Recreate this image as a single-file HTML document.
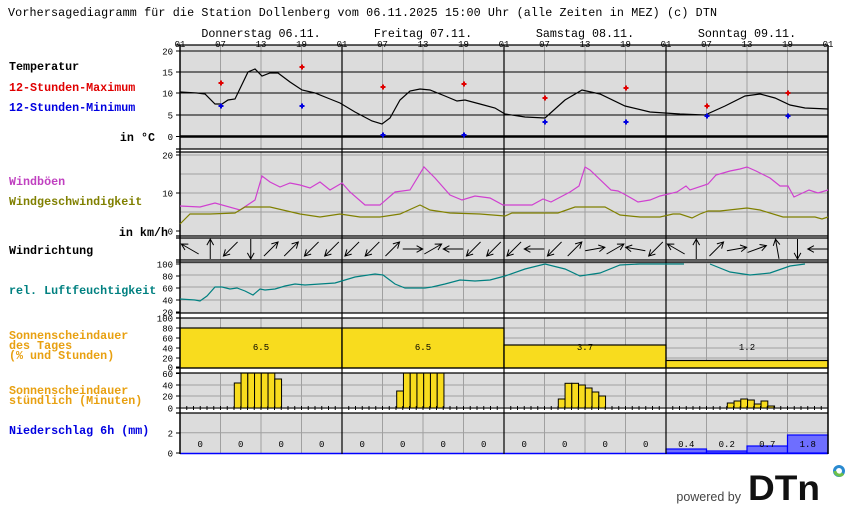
<!DOCTYPE html>
<html><head><meta charset="utf-8"><style>
html,body{margin:0;padding:0;background:#fff;width:850px;height:524px;overflow:hidden}
svg{display:block}
text{font-family:"Liberation Mono",monospace}
.l{font-size:11.7px;font-weight:bold}
.n{font-size:11.7px}
.t{font-size:9px}
</style></head><body>
<svg id="s" width="850" height="524" xmlns="http://www.w3.org/2000/svg"></svg>
<script>
const X0=180,X1=828,DW=162,HW=6.75;
let o='';
const R=(x,y,w,h,f,s,sw)=>o+=`<rect x="${x}" y="${y}" width="${w}" height="${h}" fill="${f}" ${s?`stroke="${s}" stroke-width="${sw||1}"`:''}/>`;
const L=(x1,y1,x2,y2,c,w)=>o+=`<line x1="${x1}" y1="${y1}" x2="${x2}" y2="${y2}" stroke="${c}" stroke-width="${w||1}"/>`;
const T=(x,y,s,c,cls,a)=>o+=`<text x="${x}" y="${y}" fill="${c||'#000'}" class="${cls||'t'}" text-anchor="${a||'start'}">${s}</text>`;
const P=(pts,c)=>o+=`<polyline fill="none" stroke="${c}" stroke-width="1.2" points="${pts.map(p=>p.join(',')).join(' ')}"/>`;
// title
o+=`<text x="8" y="16" class="n" textLength="709" lengthAdjust="spacing">Vorhersagediagramm für die Station Dollenberg vom 06.11.2025 15:00 Uhr (alle Zeiten in MEZ)   (c) DTN</text>`;
// day labels
["Donnerstag 06.11.","Freitag 07.11.","Samstag 08.11.","Sonntag 09.11."].forEach((d,i)=>T(X0+DW*i+DW/2,37,d,"#000","n","middle"));
// panels
const panels=[[45,149],[152,236],[238,260],[262,313],[318,368],[373,409],[413,454]];
panels.forEach(([a,b])=>R(X0,a,X1-X0,b-a,"#dcdcdc"));
for(let d=0;d<4;d++){for(let k=1;k<4;k++){const x=X0+d*DW+k*DW/4;panels.forEach(([a,b])=>L(x,a,x,b,"#a0a0a0"));}}
[51,72,93,115].forEach(y=>L(X0,y,X1,y,"#000"));
L(X0,136.5,X1,136.5,"#000",2.5);
[155,174,193,212].forEach(y=>L(X0,y,X1,y,"#a0a0a0"));
[263,275,287,300].forEach(y=>L(X0,y,X1,y,"#a0a0a0"));
[328,338,348,358].forEach(y=>L(X0,y,X1,y,"#a0a0a0"));
[385,396].forEach(y=>L(X0,y,X1,y,"#a0a0a0"));
L(X0,432.7,X1,432.7,"#a0a0a0");
for(let i=0;i<=16;i++){const x=X0+i*DW/4;T(x,47,["01","07","13","19"][i%4],"#000","t","middle");}
// sunshine daily
[[80,"6.5"],[80,"6.5"],[46,"3.7"],[15,"1.2"]].forEach(([p,s],i)=>{R(X0+i*DW,368-p/2,DW,p/2,"#f8dc1e","#000",1.2);T(X0+i*DW+DW/2,350,s,"#000","t","middle");});
// hourly sunshine bars
const hb=[[234.3,[383,373,373,373,373,373,379]],[396.7,[391,373,373,373,373,373,373]],[558.3,[399,383.3,383.3,385,388,392,396]],[727.3,[403,401,399,400,404,401,406]]];
hb.forEach(([x,a])=>a.forEach((t,i)=>R(x+i*6.75,t,6.75,408-t,"#f8dc1e","#000",1)));
for(let i=0;i<96;i++){const x=X0+i*HW;L(x,406,x,410,"#000");}
L(X0,408,X1,408,"#000");
// precip
[0.4,0.2,0.7,1.8].forEach((v,i)=>{const x=666+i*40.5;R(x,453-v*10,40.5,v*10,"#6e6eff","#0000ff",1.2);});
for(let i=0;i<16;i++){const x=X0+i*40.5+20.25;const s=i<12?"0":["0.4","0.2","0.7","1.8"][i-12];T(x,447,s,"#000","t","middle");}
L(X0,453.5,X1,453.5,"#0000ff",1.5);
[45,149,152,236,238,260,262,313,318,368,373,413].forEach(y=>L(X0-4,y,X1,y,"#000",1.3));
L(X0,45,X0,454,"#000",1.5);L(X1,45,X1,454,"#000",1.5);
[342,504,666].forEach(x=>L(x,45,x,454,"#000",1.2));
const yl=[[51,"20"],[72,"15"],[93,"10"],[115,"5"],[136.5,"0"],[155,"20"],[193,"10"],[231,"0"],[264,"100"],[276,"80"],[288,"60"],[300,"40"],[312,"20"],[318,"100"],[328,"80"],[338,"60"],[348,"40"],[358,"20"],[367,"0"],[373.5,"60"],[385,"40"],[396,"20"],[408,"0"],[433,"2"],[453,"0"]];
yl.forEach(([y,s])=>{L(176,y,180,y,"#000");T(173,y+3.5,s,"#000","t","end");});
// temperature
P([[180,92],[197,93],[205,94],[215,104],[222,104],[228,100],[235,99],[248,72],[255,69],[262,76],[270,73],[278,73],[290,82],[302,90],[315,93],[330,99],[340,103],[355,112],[372,121],[382,124],[390,118],[400,100],[410,91],[420,89],[430,90],[445,96],[457,101],[465,100],[480,104],[495,108],[505,114],[525,117],[545,118],[565,100],[582,90],[600,94],[625,106],[650,112],[680,114],[705,115],[725,106],[745,96],[760,94],[775,98],[790,105],[805,108],[828,109]],"#000");
[[221,83],[302,67],[383,87],[464,84],[545,98],[626,88],[707,106],[788,93]].forEach(([x,y])=>o+=`<path d="M${x-2.5} ${y}h5M${x} ${y-2.5}v5" stroke="#e00000" stroke-width="2"/>`);
[[221,106],[302,106],[383,135],[464,135],[545,122],[626,122],[707,116],[788,116]].forEach(([x,y])=>o+=`<path d="M${x-2.5} ${y}h5M${x} ${y-2.5}v5" stroke="#0000e0" stroke-width="2"/>`);
// gusts
P([[180,206],[200,207],[215,203],[240,210],[255,200],[262,176],[270,182],[280,187],[290,183],[300,185],[310,188],[320,182],[330,190],[342,183],[350,192],[365,205],[380,205],[395,192],[410,190],[424,167],[435,178],[450,195],[462,200],[475,196],[490,198],[503,205],[532,205],[543,199],[551,202],[570,192],[579,186],[585,167],[590,170],[611,190],[618,191],[624,194],[638,202],[650,200],[660,196],[677,192],[686,186],[690,190],[708,184],[716,175],[730,171],[740,169],[747,167],[756,171],[770,178],[780,186],[788,186],[794,197],[809,190],[818,193],[828,190]],"#d040d0");
// wind
P([[180,224],[190,214],[210,214],[235,213],[245,207],[270,207],[300,214],[320,217],[340,214],[360,217],[380,217],[400,214],[420,205],[430,210],[450,213],[480,214],[505,216],[512,213],[558,213],[575,207],[605,207],[620,215],[640,217],[660,217],[673,214],[680,214],[692,218],[700,214],[708,211],[720,211],[747,208],[760,210],[783,217],[815,217],[822,219],[828,217]],"#808000");
// humidity
P([[180,299],[195,300],[200,301],[207,296],[215,287],[222,287],[230,289],[237,288],[245,291],[253,295],[260,289],[265,290],[275,289],[285,286],[295,284],[305,285],[335,283],[345,280],[355,277],[375,274],[383,275],[395,284],[405,288],[425,288],[432,287],[445,284],[460,280],[475,281],[490,280],[505,276],[525,269],[545,264],[565,269],[580,276],[600,273],[620,265],[640,264],[684,264]],"#008080");
P([[710,264],[730,272],[750,275],[770,273],[790,266],[805,264]],"#008080");
// wind direction arrows
const dirs=[-60,0,225,180,45,45,225,225, 225,225,45,90,60,-90,225,225, 225,-90,225,45,80,60,-80,225, -60,0,45,80,70,-10,180,-90];
dirs.forEach((a,i)=>{const cx=X0+10+i*20.25,cy=249,r=10,rad=a*Math.PI/180;const dx=Math.sin(rad),dy=-Math.cos(rad);
const hx=cx+dx*r,hy=cy+dy*r,tx=cx-dx*r,ty=cy-dy*r;
const b1=rad+Math.PI-0.5,b2=rad+Math.PI+0.5;
o+=`<path d="M${tx} ${ty}L${hx} ${hy}M${hx+Math.sin(b1)*7} ${hy-Math.cos(b1)*7}L${hx} ${hy}L${hx+Math.sin(b2)*7} ${hy-Math.cos(b2)*7}" stroke="#000" fill="none" stroke-width="1"/>`;});
// left labels
T(9,70,"Temperatur","#000","l");T(9,91,"12-Stunden-Maximum","#e00000","l");T(9,111,"12-Stunden-Minimum","#0000e0","l");T(155,141,"in °C","#000","l","end");
T(9,185,"Windböen","#c040c0","l");T(9,205,"Windgeschwindigkeit","#808000","l");T(168,236,"in km/h","#000","l","end");
T(9,254,"Windrichtung","#000","l");T(9,294,"rel. Luftfeuchtigkeit","#008080","l");
T(9,339,"Sonnenscheindauer","#e8a010","l");T(9,349,"des Tages","#e8a010","l");T(9,359,"(% und Stunden)","#e8a010","l");
T(9,394,"Sonnenscheindauer","#e8a010","l");T(9,404,"stündlich (Minuten)","#e8a010","l");
T(9,434,"Niederschlag 6h (mm)","#0000e0","l");
// logo
o+=`<text x="741" y="501" fill="#444" style="font-family:'Liberation Sans',sans-serif;font-size:12.5px" text-anchor="end">powered by</text>`;
o+=`<text x="748" y="500" fill="#111" textLength="72" lengthAdjust="spacingAndGlyphs" style="font-family:'Liberation Sans',sans-serif;font-size:35px;font-weight:bold">DTn</text>`;
o+=`<circle cx="839" cy="471" r="4.5" fill="none" stroke="#2a8ad0" stroke-width="3"/><path d="M835 471a4.5 4.5 0 0 0 8 2.5" stroke="#6cc04a" stroke-width="3" fill="none"/>`;
document.getElementById('s').innerHTML=o;
</script>
</body></html>
